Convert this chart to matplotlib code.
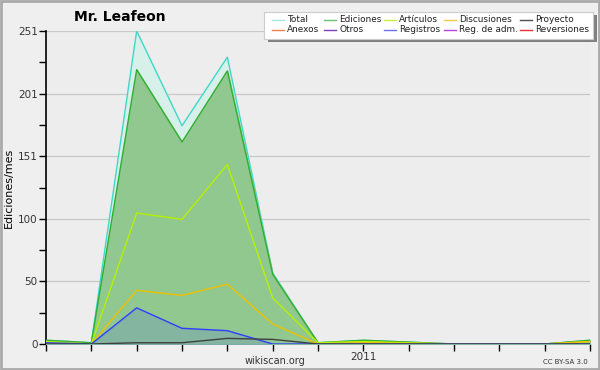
import matplotlib
matplotlib.use('Agg')
import matplotlib.pyplot as plt
from matplotlib.patches import Rectangle

months = list(range(13))  # jun 2010 .. jun 2011
xlabels = ['', '', '', '', '', '', '', '2011', '', '', '', '', '']

total = [3, 1, 251, 175, 230, 57, 1, 3, 1.5, 0, 0, 0, 3]
ediciones = [3, 1, 220, 162, 219, 56, 1, 3, 1.5, 0, 0, 0, 3]
articulos = [2, 0, 105, 100, 144, 37, 1, 2, 1, 0, 0, 0, 2]
discusiones = [0, 0, 43, 39, 48, 16, 0, 1, 0.5, 0, 0, 0, 2]
proyecto = [0, 0, 1, 1, 4.5, 3.7, 0, 0, 0, 0, 0, 0, 0]
registros = [1, 0, 29, 12.6, 10.7, 0, 0, 0, 0, 0, 0, 0, 0]

legend_names = ['Total', 'Anexos', 'Ediciones', 'Otros', 'Artículos', 'Registros',
                'Discusiones', 'Reg. de adm.', 'Proyecto', 'Reversiones']
legend_colors = ['#a8e4e0', '#f08050', '#70c070', '#8040c0', '#c8f040', '#7070f0',
                 '#f8c840', '#c040e0', '#505050', '#f03030']

fig = plt.figure(figsize=(6, 3.7), dpi=100, facecolor='#efefef')
ax = fig.add_axes([46/600, 26/370, 544/600, 313/370])
ax.set_facecolor('#ededee')

ax.fill_between(months, total, color='#d8f0ea', zorder=1)
ax.plot(months, total, color='#40d8c8', lw=1, zorder=2)
ax.fill_between(months, ediciones, color='#90c890', zorder=3)
ax.plot(months, ediciones, color='#30b030', lw=1, zorder=4)
ax.fill_between(months, registros, color='#6080d0', alpha=0.25, zorder=4)
ax.plot(months, articulos, color='#b8f000', lw=1, zorder=5)
ax.plot(months, discusiones, color='#f0c000', lw=1, zorder=5)
ax.plot(months, registros, color='#3040ff', lw=1, zorder=6)
ax.plot(months, proyecto, color='#404040', lw=1, zorder=6)

ax.set_xlim(0, 12)
ax.set_ylim(0, 251)
yt = [0, 50.2, 100.4, 150.6, 200.8, 251]
ax.set_yticks(yt)
ax.set_yticklabels(['0', '50', '100', '151', '201', '251'], fontsize=7.5, color='#333333')
ax.set_yticks([25.1 + 50.2 * i for i in range(5)], minor=True)
ax.set_xticks(months)
ax.set_xticklabels(xlabels, fontsize=7.5, color='#333333')
ax.tick_params(axis='both', which='both', length=5, width=1, color='black', pad=1)
for v in yt[1:]:
    ax.axhline(v, color='#c8c8c8', lw=0.9, zorder=0.5)
for s in ['top', 'right']:
    ax.spines[s].set_visible(False)
ax.spines['left'].set_linewidth(1.2)
ax.spines['bottom'].set_linewidth(1.2)
ax.set_ylabel('Ediciones/mes', fontsize=8, labelpad=3)

fig.text(120/600, 1 - 17/370, 'Mr. Leafeon', fontsize=10, fontweight='bold',
         ha='center', va='center')
fig.text(275/600, 1 - 361/370, 'wikiscan.org', fontsize=7, color='#333333',
         ha='center', va='center')
fig.text(588/600, 1 - 362/370, 'CC BY-SA 3.0', fontsize=5, color='#333333',
         ha='right', va='center')

# legend box with shadow
sax = fig.add_axes([268/600, 1 - 42/370, 329/600, 27/370])
sax.set_facecolor('#808080')
sax.set_xticks([])
sax.set_yticks([])
for s in sax.spines.values():
    s.set_visible(False)
lax = fig.add_axes([264/600, 1 - 39/370, 329/600, 27/370])
lax.set_xlim(0, 329)
lax.set_ylim(27, 0)
lax.set_facecolor('white')
for s in lax.spines.values():
    s.set_color('#cccccc')
lax.set_xticks([])
lax.set_yticks([])
col_x = [8, 60, 120, 180, 256]
for i, (name, c) in enumerate(zip(legend_names, legend_colors)):
    col = i // 2
    row = i % 2
    y = 7.5 + row * 10
    x = col_x[col]
    lax.plot([x, x + 12], [y, y], color=c, lw=1)
    lax.text(x + 15, y, name, fontsize=6.4, va='center', ha='left', color='#222222')

fig.patches.append(Rectangle((0.002, 0.003), 0.996, 0.994, transform=fig.transFigure,
                             fill=False, edgecolor='#aaaaaa', lw=2))

fig.savefig('out.png', dpi=100, facecolor=fig.get_facecolor())
